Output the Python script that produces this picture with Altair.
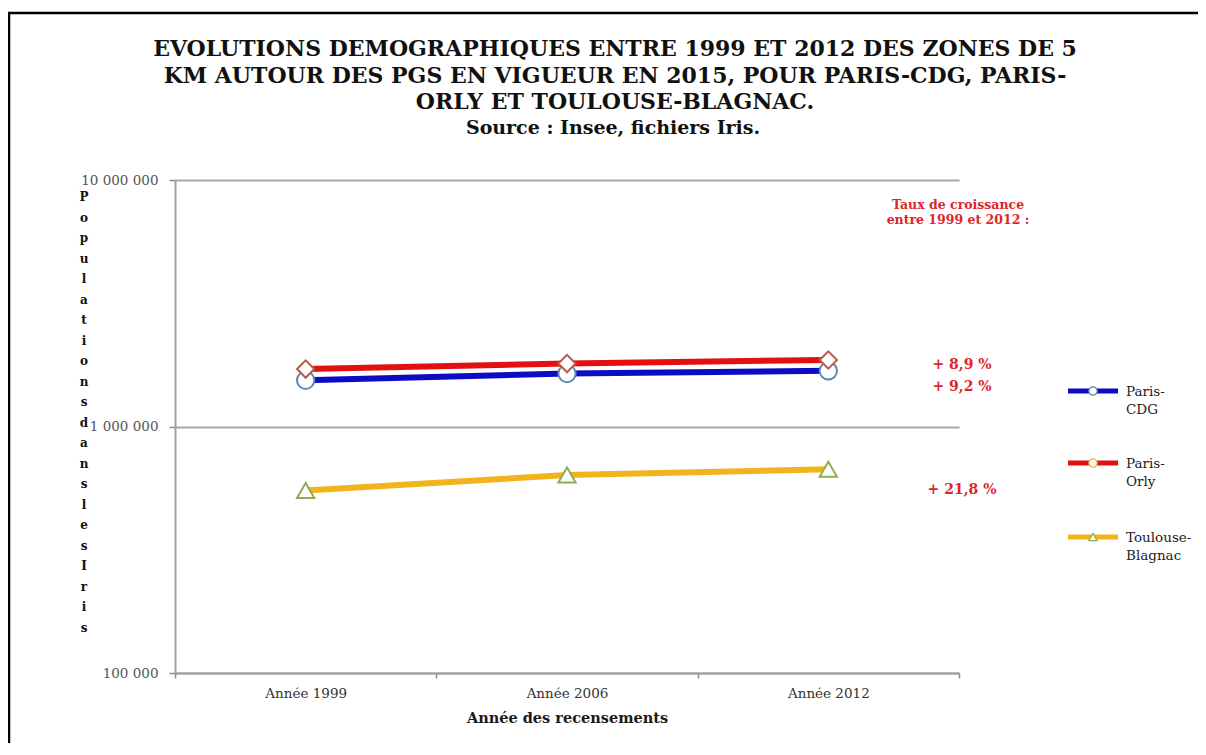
import altair as alt
import pandas as pd

# ---------------- data ----------------
years = ["Année 1999", "Année 2006", "Année 2012"]
series_names = ["Paris-CDG", "Paris-Orly", "Toulouse-Blagnac"]
cdg = [1540000, 1640000, 1682000]
orly = [1710000, 1800000, 1862000]
toulouse = [550000, 635000, 670000]

line_colors = ["#0c0cc4", "#e31010", "#f2b41a"]
marker_shapes = ["circle", "diamond", "triangle-up"]
marker_strokes = ["#5f88b0", "#b85a50", "#8fae52"]

y_ticks = [100000, 1000000, 10000000]
y_tick_labels = ["100 000", "1 000 000", "10 000 000"]

title_lines = [
    "EVOLUTIONS DEMOGRAPHIQUES  ENTRE 1999 ET 2012 DES ZONES DE 5",
    "KM AUTOUR DES PGS EN VIGUEUR EN 2015, POUR PARIS-CDG, PARIS-",
    "ORLY ET TOULOUSE-BLAGNAC.",
]
source_line = "Source : Insee, fichiers  Iris."
y_title_lines = list("Populations") + [""] + list("dans") + [""] + list("les") + [""] + list("Iris")
x_title = "Année des recensements"
annot_lines = ["Taux de croissance", "entre 1999 et 2012 :"]
growth_labels = ["+ 8,9 %", "+ 9,2 %", "+ 21,8 %"]
legend_labels = [["Paris-", "CDG"], ["Paris-", "Orly"], ["Toulouse-", "Blagnac"]]

FONT = "DejaVu Serif"
RED = "#e0242b"

values = [cdg, orly, toulouse]
df = pd.DataFrame(
    [
        {"series": s, "year": y, "value": v}
        for s, vals in zip(series_names, values)
        for y, v in zip(years, vals)
    ]
)

label_expr = " : ".join(
    f"datum.value == {v} ? '{t}'" for v, t in zip(y_ticks, y_tick_labels)
) + " : ''"

x_enc = alt.X(
    "year:N",
    sort=years,
    scale=alt.Scale(type="band", domain=years, paddingInner=0, paddingOuter=0),
    axis=alt.Axis(
        title=x_title,
        titleFont=FONT,
        titleFontSize=14.5,
        titleFontWeight="bold",
        titleColor="#1a1a1a",
        titlePadding=12,
        labelFont=FONT,
        labelFontSize=13.5,
        labelColor="#333333",
        labelAngle=0,
        labelPadding=8,
        tickBand="extent",
        tickSize=5,
        tickColor="#8c8c8c",
        tickWidth=1.5,
        domainColor="#a0a0a0",
        domainWidth=2,
        grid=False,
    ),
)
y_enc = alt.Y(
    "value:Q",
    scale=alt.Scale(type="log", domain=[y_ticks[0], y_ticks[-1]]),
    axis=alt.Axis(
        title=None,
        values=y_ticks,
        labelExpr=label_expr,
        labelFont=FONT,
        labelFontSize=13.5,
        labelColor="#555555",
        labelPadding=11,
        tickSize=6,
        tickColor="#8c8c8c",
        tickWidth=1.5,
        domainColor="#a0a0a0",
        domainWidth=2,
        grid=True,
        gridColor="#a8a8a8",
        gridWidth=2,
    ),
)

layers = []
for i, s in enumerate(series_names):
    sub = df[df["series"] == s]
    base = alt.Chart(sub).encode(x=x_enc, y=y_enc)
    layers.append(base.mark_line(color=line_colors[i], strokeWidth=6))
    layers.append(
        base.mark_point(
            shape=marker_shapes[i],
            size=300,
            filled=True,
            fill="white",
            stroke=marker_strokes[i],
            strokeWidth=2,
            opacity=1,
        )
    )

dummy = pd.DataFrame({"a": [0]})

# outer frame
frame = alt.Chart(dummy).mark_rect(fill="transparent", stroke="black", strokeWidth=2.5).encode(
    x=alt.value(-166), x2=alt.value(1030), y=alt.value(-167), y2=alt.value(600)
)

title_mark = alt.Chart(dummy).mark_text(
    text=title_lines, font=FONT, fontSize=22, fontWeight="bold", align="center",
    baseline="alphabetic", lineHeight=26.5, color="#111111",
).encode(x=alt.value(440), y=alt.value(-124))

source_mark = alt.Chart(dummy).mark_text(
    text=source_line, font=FONT, fontSize=19, fontWeight="bold", align="center",
    baseline="alphabetic", color="#111111",
).encode(x=alt.value(438), y=alt.value(-46))

ytitle_mark = alt.Chart(dummy).mark_text(
    text=y_title_lines, font=FONT, fontSize=12, fontWeight="bold", align="center",
    baseline="alphabetic", lineHeight=20.5, color="#111111",
).encode(x=alt.value(-91), y=alt.value(21))

annot_mark = alt.Chart(dummy).mark_text(
    text=annot_lines, font=FONT, fontSize=12.5, fontWeight="bold", align="center",
    baseline="alphabetic", lineHeight=15, color=RED,
).encode(x=alt.value(783), y=alt.value(29))

growth_y = [189, 211, 314]
growth_marks = [
    alt.Chart(dummy).mark_text(
        text=g, font=FONT, fontSize=14, fontWeight="bold", align="center",
        baseline="alphabetic", color=RED,
    ).encode(x=alt.value(787), y=alt.value(gy))
    for g, gy in zip(growth_labels, growth_y)
]

legend_y = [211, 283, 357]
legend_marks = []
for i in range(3):
    ly = legend_y[i]
    legend_marks.append(
        alt.Chart(dummy).mark_rule(color=line_colors[i], strokeWidth=5).encode(
            x=alt.value(893), x2=alt.value(943), y=alt.value(ly)
        )
    )
    legend_marks.append(
        alt.Chart(dummy).mark_point(
            shape="circle" if i < 2 else "triangle-up", size=70, filled=True,
            fill="#fdfbe8" if i == 1 else "white", stroke=marker_strokes[i] if i != 1 else "#d8b860",
            strokeWidth=1.2, opacity=1,
        ).encode(x=alt.value(918), y=alt.value(ly))
    )
    legend_marks.append(
        alt.Chart(dummy).mark_text(
            text=legend_labels[i], font=FONT, fontSize=13.5, align="left",
            baseline="alphabetic", lineHeight=18, color="#222222",
        ).encode(x=alt.value(951), y=alt.value(ly + 5))
    )

chart = alt.layer(
    frame, *layers, title_mark, source_mark, ytitle_mark, annot_mark, *growth_marks, *legend_marks
).properties(
    width=784,
    height=493,
    padding={"left": 167, "top": 172, "right": 239, "bottom": 70},
    autosize=alt.AutoSizeParams(type="none"),
    background="white",
).configure_view(stroke=None)

chart.save("out.html", embed_options={"renderer": "svg", "actions": False})
